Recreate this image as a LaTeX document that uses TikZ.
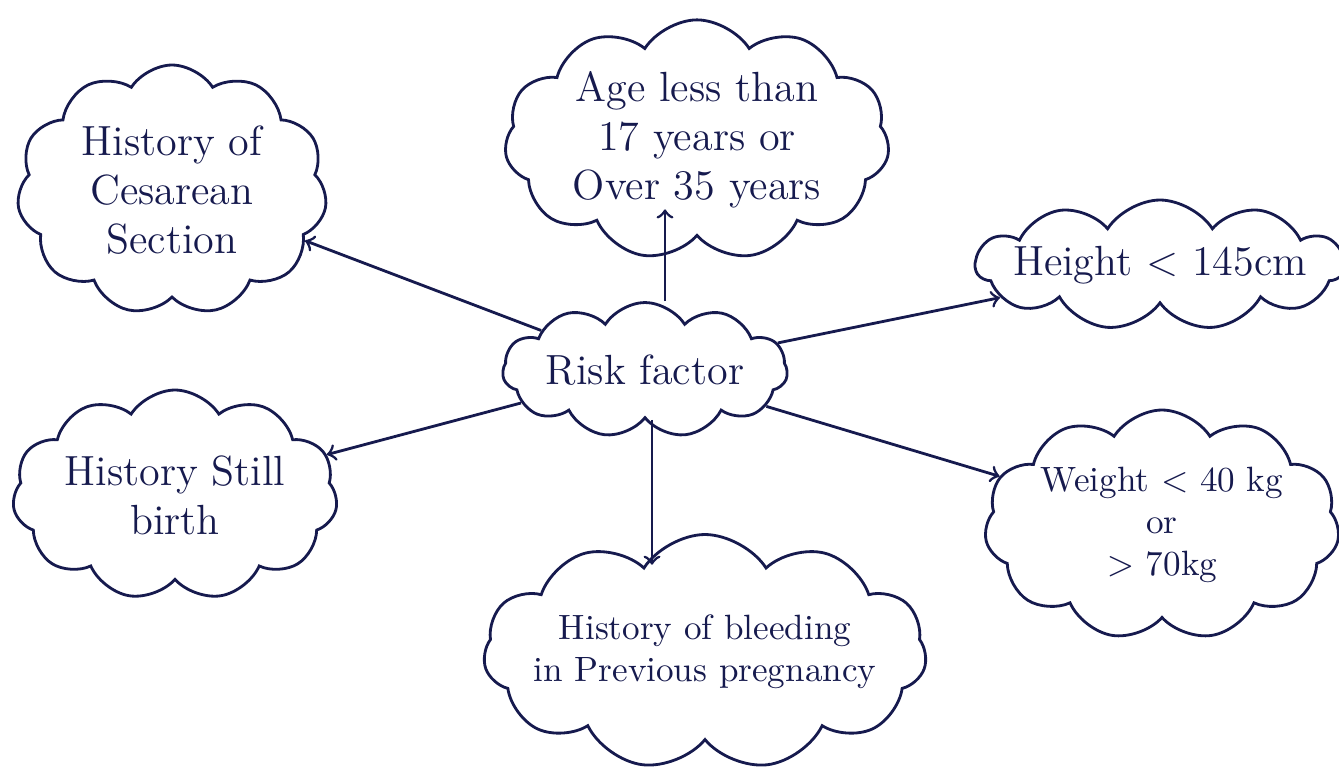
\documentclass[tikz,border=0pt]{standalone}
\usepackage{tikz}
\usetikzlibrary{shapes,arrows}
\definecolor{ink}{RGB}{22,26,78}
\tikzset{%
	idea/.style   = {draw, thick, shape = cloud, cloud puffs = 11,
		cloud puff arc = 115, cloud ignores aspect, align = center,
		font = \large, inner sep = 0pt}, % Cloud
	link/.style   = {draw, thick, ->, >=to} % Arrow
}

\begin{document}
\begin{tikzpicture}[color=ink]
                \useasboundingbox (0,0) rectangle (13.39,-7.76);

                \node[idea, minimum width = 2.85cm, minimum height = 1.35cm] (risk) at (6.45,-3.70) {Risk factor};
                \node[idea, minimum width = 3.10cm, minimum height = 2.50cm] (cesar) at (1.72,-1.90) {History of\\ Cesarean\\ Section};
                \node[idea, minimum width = 3.85cm, minimum height = 2.15cm] (age) at (6.97,-1.40) {Age less than\\ 17 years or\\ Over 35 years};
                \node[idea, minimum width = 3.55cm, minimum height = 1.30cm, inner xsep = -4pt] (height) at (11.60,-2.65) {Height $<$ 145cm};
                \node[idea, minimum width = 3.25cm, minimum height = 2.10cm] (still) at (1.75,-4.95) {History Still\\ birth};
                \node[idea, minimum width = 3.55cm, minimum height = 2.30cm, inner xsep = -3pt, font = \normalsize] (weight) at (11.62,-5.25) {Weight $<$ 40 kg\\ or\\ $>$ 70kg};
                \node[idea, minimum width = 4.30cm, minimum height = 2.35cm, inner xsep = -4pt, font = \normalsize] (bleed) at (7.05,-6.52) {History of bleeding\\ in Previous pregnancy};

                \draw[link, shorten >= -8pt] (risk.north -| 6.65,0) -- (age.south -| 6.65,0);
                \draw[link] (risk) -- (cesar);
                \draw[link] (risk) -- (height);
                \draw[link] (risk) -- (still);
                \draw[link] (risk) -- (weight);
                \draw[link, shorten >= -9pt] (risk.south -| 6.52,0) -- (bleed.north -| 6.52,0);
            \end{tikzpicture}
\end{document}
